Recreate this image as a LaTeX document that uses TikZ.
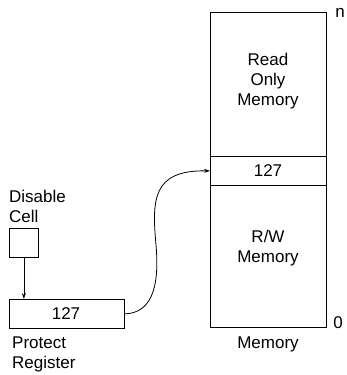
\documentclass[tikz,border=0pt]{standalone}
\usepackage{fontspec}
\setmainfont{Liberation Sans}
\usetikzlibrary{arrows.meta}
\begin{document}
\begin{tikzpicture}[x=1pt,y=-1pt,
  box/.style={draw,line width=0.8pt,inner sep=0pt},
  lbl/.style={font=\fontsize{17}{20}\selectfont,align=center,inner sep=0pt},
  lbll/.style={font=\fontsize{17}{20}\selectfont,align=left,inner sep=0pt,anchor=north west},
  conn/.style={line width=0.8pt,-{Stealth[length=6pt,width=4pt]}}]
\useasboundingbox (0,0) rectangle (346,375);
% memory
\node[box,minimum width=116pt,minimum height=144pt,anchor=north west] (rom) at (210,12) {};
\node[box,minimum width=116pt,minimum height=29pt,anchor=north west] (cell) at (210,156) {};
\node[box,minimum width=116pt,minimum height=142pt,anchor=north west] (rw) at (210,185) {};
\node[lbl] (romt) at (268,81) {Read\\Only\\Memory};
\node[lbl] (cellt) at (268,171) {127};
\node[lbl] (rwt) at (268,248) {R/W\\Memory};
\node[lbl] (memt) at (268,344) {Memory};
\node[lbl] (nt) at (340,13) {n};
\node[lbl] (zt) at (338,323) {0};
% disable cell
\node[lbll] (dct) at (9,190) {Disable\\Cell};
\node[box,minimum width=29pt,minimum height=29pt,anchor=north west] (dc) at (9,228) {};
% protect register
\node[box,minimum width=115pt,minimum height=29pt,anchor=north west] (pr) at (9,299) {};
\node[lbl] (prt) at (66,314) {127};
\node[lbll] (prl) at (12,337) {Protect\\Register};
% connectors
\coordinate (mid) at (156,245);
\draw[conn] (dc.south) -- (dc.south |- pr.north);
\draw[conn] (pr.east) .. controls (150,313) and (160,290) .. (mid)
  .. controls (152,200) and (152,170) .. (cell.west);
\end{tikzpicture}
\end{document}
